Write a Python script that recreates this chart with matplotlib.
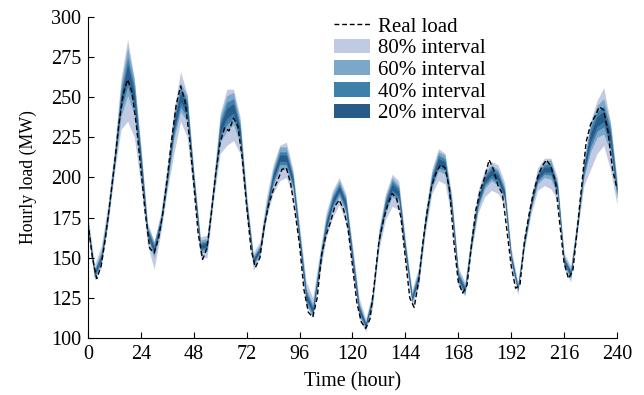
import matplotlib
matplotlib.use("Agg")
import matplotlib.pyplot as plt
import numpy as np

plt.rcParams['font.family'] = ['Liberation Serif', 'DejaVu Serif']

# real load, every 2 hours
hours = np.arange(0, 241, 2)
real_load = [172, 150, 137, 145, 163, 185, 208, 233, 252, 261, 253, 232,
             205, 178, 156, 153, 162, 178, 200, 224, 245, 257, 248, 225,
             196, 165, 149, 156, 178, 203, 222, 231, 229, 237, 232, 212,
             182, 155, 144, 150, 170, 183, 192, 198, 205, 206, 196, 178,
             158, 130, 116, 113, 125, 152, 164, 172, 182, 186, 180, 168,
             145, 122, 110, 106, 112, 135, 160, 173, 183, 190, 187, 175,
             150, 125, 119, 135, 160, 180, 195, 203, 208, 206, 193, 160,
             135, 128, 133, 158, 180, 192, 200, 211, 205, 195, 190, 168,
             145, 131, 133, 160, 176, 190, 200, 207, 211, 207, 198, 172,
             147, 137, 142, 168, 195, 222, 233, 238, 244, 242, 228, 205,
             193]

# forecast bands, every 3 hours
band_hours = np.arange(0, 241, 3)
fc_mid = [170, 140, 150, 176, 210, 248, 266, 250, 210, 166, 155, 172, 200, 232,
          250, 243, 198, 157, 158, 193, 230, 240, 243, 228, 182, 148, 155, 180,
          200, 212, 212, 198, 162, 126, 117, 145, 170, 185, 193, 183, 150, 118,
          108, 124, 162, 183, 194, 190, 155, 125, 138, 172, 198, 210, 208, 182,
          138, 130, 160, 185, 198, 203, 200, 190, 150, 131, 160, 183, 200, 205,
          205, 193, 148, 140, 170, 205, 225, 235, 238, 225, 192]
lo80 = [165, 136, 144, 170, 203, 230, 235, 225, 195, 158, 143, 165, 192, 215,
        235, 225, 188, 150, 150, 186, 215, 220, 223, 215, 175, 142, 150, 175,
        190, 198, 200, 188, 155, 120, 113, 138, 162, 175, 183, 172, 143, 112,
        104, 118, 155, 174, 182, 180, 148, 120, 132, 165, 190, 198, 196, 175,
        132, 126, 154, 178, 188, 192, 190, 183, 145, 127, 155, 177, 192, 195,
        193, 186, 143, 135, 165, 195, 205, 215, 220, 205, 183]
hi80 = [176, 146, 157, 183, 218, 262, 286, 262, 220, 172, 160, 178, 208, 242,
        266, 252, 205, 163, 164, 200, 240, 255, 255, 238, 190, 153, 160, 188,
        208, 220, 222, 205, 170, 135, 125, 152, 178, 192, 200, 190, 158, 125,
        112, 128, 168, 190, 202, 198, 162, 130, 144, 178, 205, 218, 215, 190,
        144, 135, 166, 192, 205, 210, 208, 197, 156, 135, 165, 188, 206, 212,
        212, 200, 153, 145, 176, 212, 235, 248, 256, 235, 200]
w60 = [3, 3, 4, 4, 5, 10, 15, 11, 8, 4, 5, 4, 5, 8, 9, 8, 5, 4, 4, 4, 8, 11, 10, 7,
       5, 3, 3, 4, 5, 7, 7, 5, 5, 5, 4, 4, 5, 5, 5, 5, 5, 4, 2, 3, 4, 5, 6, 5, 4, 3,
       4, 4, 5, 6, 6, 5, 4, 3, 4, 4, 5, 5, 5, 4, 3, 2, 3, 3, 4, 5, 6, 4, 3, 3, 3, 5,
       9, 10, 11, 9, 5]
w40 = [2, 2, 2.5, 2.5, 3, 6, 9, 7, 5, 2.5, 3, 2.5, 3, 5, 6, 5, 3, 2.5, 2.5, 2.5,
       5, 7, 6, 4.5, 3, 2, 2, 2.5, 3.5, 4, 4, 3, 3, 3, 2.5, 2.5, 3, 3, 3, 3.5, 3,
       2.5, 1.5, 2, 2.5, 3, 4, 3.5, 2.5, 2, 2.5, 2.5, 3, 4, 3.5, 3, 2.5, 2, 2.5, 2.5,
       3, 3.5, 3.5, 2.5, 2, 1.5, 2, 2, 2.5, 3, 3.5, 2.5, 2, 2, 2, 3, 6, 6, 6.5, 6, 3]
w20 = [1, 1, 1.2, 1.2, 1.4, 3, 4.5, 3.3, 2.3, 1.3, 1.5, 1.2, 1.4, 2.4, 2.7, 2.4,
       1.5, 1.2, 1.3, 1.3, 2.3, 3.2, 2.9, 2.1, 1.4, 1, 0.9, 1.2, 1.6, 2, 2, 1.5,
       1.4, 1.4, 1.1, 1.3, 1.4, 1.5, 1.5, 1.6, 1.4, 1.2, 0.7, 0.9, 1.2, 1.4, 1.8,
       1.6, 1.3, 0.9, 1.1, 1.2, 1.4, 1.8, 1.7, 1.4, 1.1, 0.8, 1.1, 1.3, 1.5, 1.6,
       1.6, 1.3, 1, 0.7, 0.9, 1, 1.3, 1.5, 1.7, 1.3, 0.9, 0.9, 1, 1.5, 2.7, 3,
       3.2, 2.7, 1.5]

colors = {'80': '#c0cae3', '60': '#7ba7c9', '40': '#3f80aa', '20': '#285a8a'}

fig = plt.figure(figsize=(6.44, 3.95), dpi=100)
ax = fig.add_axes([0.1366, 0.1443, 0.8214, 0.8127])

mid = np.array(fc_mid, dtype=float)
ax.fill_between(band_hours, lo80, hi80, color=colors['80'], lw=0, label='80% interval')
ax.fill_between(band_hours, mid - np.array(w60), mid + np.array(w60),
                color=colors['60'], lw=0, label='60% interval')
ax.fill_between(band_hours, mid - np.array(w40), mid + np.array(w40),
                color=colors['40'], lw=0, label='40% interval')
ax.fill_between(band_hours, mid - np.array(w20), mid + np.array(w20),
                color=colors['20'], lw=0, label='20% interval')
ax.plot(hours, real_load, color='black', lw=1.0, ls=(0, (3.5, 2)), label='Real load')

ax.set_xlim(0, 240)
ax.set_ylim(100, 300)
ax.set_xticks(np.arange(0, 241, 24))
ax.set_yticks(np.arange(100, 301, 25))
ax.spines['top'].set_visible(False)
ax.spines['right'].set_visible(False)
ax.tick_params(direction='in', length=4, labelsize=14.5, pad=5)
ax.set_xlabel('Time (hour)', fontsize=14.5, labelpad=6)
ax.set_ylabel('Hourly load (MW)', fontsize=12.8, labelpad=10)

handles, labels = ax.get_legend_handles_labels()
order = [4, 0, 1, 2, 3]
ax.legend([handles[i] for i in order], [labels[i] for i in order],
          loc='upper left', bbox_to_anchor=(0.465, 1.0), frameon=False,
          fontsize=15, handlelength=1.75, handletextpad=0.35,
          labelspacing=0.1, borderaxespad=0, borderpad=0)

fig.savefig('out.png', dpi=100)
